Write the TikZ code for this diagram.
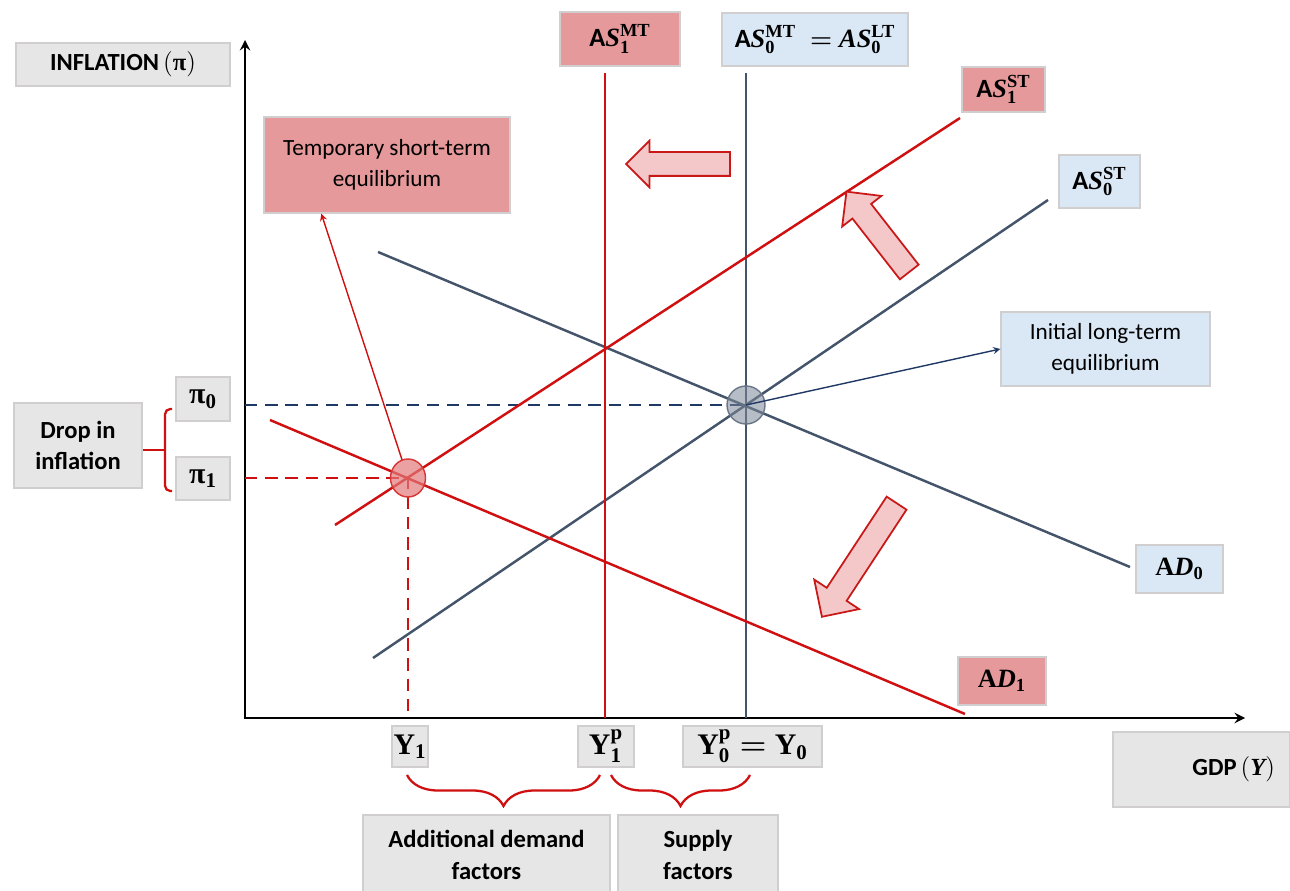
\documentclass[tikz,border=0pt]{standalone}
\usepackage{amsmath}
\usepackage[no-math]{fontspec}
\setmainfont{Carlito}
\newfontfamily\lblserif{Liberation Serif}
\usepackage{tikz}
\usetikzlibrary{shapes,arrows,positioning,calc,decorations.pathreplacing}

\newcommand{\lup}[1]{\text{\lblserif\bfseries #1}}
\newcommand{\lit}[1]{\text{\lblserif\bfseries\itshape #1}}

\definecolor{boxred}{RGB}{229,153,154}
\definecolor{boxblue}{RGB}{218,232,246}
\definecolor{boxgray}{RGB}{231,230,230}
\definecolor{edgegray}{RGB}{208,206,206}
\definecolor{linered}{RGB}{208,16,16}
\definecolor{lineblue}{RGB}{68,84,106}
\definecolor{dashnavy}{RGB}{32,56,100}
\definecolor{arrfill}{RGB}{244,199,200}
\definecolor{arredge}{RGB}{200,24,24}
\definecolor{eqred}{RGB}{226,120,122}

\tikzstyle{lbl}      =[draw=edgegray, line width=0.8pt, inner sep=0pt, align=center,
                       font=\fontsize{14}{18}\selectfont\bfseries]
\tikzstyle{redbox}   =[lbl, fill=boxred]
\tikzstyle{bluebox}  =[lbl, fill=boxblue]
\tikzstyle{graybox}  =[lbl, fill=boxgray]
\tikzstyle{big}      =[font=\fontsize{17}{20}\selectfont\bfseries]
\tikzstyle{mid}      =[font=\fontsize{15}{18}\selectfont\bfseries]
\tikzstyle{plain}    =[font=\fontsize{13.2}{17.5}\selectfont]
\tikzstyle{curve}    =[line width=1.4pt]
\tikzstyle{bigarr}   =[single arrow, draw=arredge, fill=arrfill, line width=1pt,
                       inner xsep=0pt, inner ysep=0.22cm, single arrow head extend=0.23cm,
                       minimum height=2.08cm]
\tikzstyle{bracered} =[draw=linered, line width=1.3pt]

\begin{document}
\begin{tikzpicture}[x=0.02cm, y=-0.02cm]
  \useasboundingbox (0,0) rectangle (1290,891);

  % axes
  \coordinate (O) at (245,718);
  \coordinate (ytop) at (245,40);
  \coordinate (xend) at (1245,718);
  \draw[->, line width=1.6pt, >=stealth] (O) -- (ytop);
  \draw[->, line width=1.6pt, >=stealth] ([xshift=-0.8pt]O) -- (xend);

  % curve end points
  \coordinate (ad0a) at (378,252);  \coordinate (ad0b) at (1130,567);
  \coordinate (as0a) at (373,658);  \coordinate (as0b) at (1048,200);
  \coordinate (as1a) at (335,525);  \coordinate (as1b) at (960,118);
  \coordinate (ad1a) at (270,420);  \coordinate (ad1b) at (965,714);
  \coordinate (mt1a) at (605,73);   \coordinate (mt1b) at (605,718);
  \coordinate (mt0a) at (746,73);   \coordinate (mt0b) at (746,718);

  % equilibrium points
  \node[ellipse, minimum width=0.76cm, minimum height=0.76cm] (blueeq) at (746,405) {};
  \node[ellipse, minimum width=0.70cm, minimum height=0.76cm] (redeq) at (408,478) {};

  % dashed guides
  \draw[dashnavy, line width=1.4pt, dash pattern=on 7pt off 4.5pt] (blueeq.center -| O) -- (blueeq.center);
  \draw[linered, line width=1.2pt, dash pattern=on 7pt off 4.5pt] (redeq.center -| O) -- (redeq.center) -- (redeq.center |- O);

  % curves
  \draw[curve, lineblue] (ad0a) -- (ad0b);
  \draw[curve, lineblue] (as0a) -- (as0b);
  \draw[curve, lineblue] (mt0a) -- (mt0b);
  \draw[curve, linered] (as1a) -- (as1b);
  \draw[curve, linered] (ad1a) -- (ad1b);
  \draw[curve, linered] (mt1a) -- (mt1b);

  \draw[fill=lineblue!70, fill opacity=0.55, draw=lineblue!80, line width=0.8pt] (blueeq.center) ellipse (0.38cm and 0.38cm);
  \draw[fill=eqred, fill opacity=0.7, draw=linered!85, line width=0.8pt] (redeq.center) ellipse (0.35cm and 0.38cm);

  % labels
  \node[graybox, minimum width=4.28cm, minimum height=0.86cm] (infl) at (123,64.5) {INFLATION\,$(\lup{π})$};
  \node[redbox, mid, minimum width=2.4cm, minimum height=1.08cm] (as1mt) at (620,39) {A$\lit{S}^{\lup{MT}}_{\lup{1}}$};
  \node[bluebox, mid, minimum width=3.72cm, minimum height=1.06cm] (as0mt) at (815,39.5) {A$\lit{S}^{\lup{MT}}_{\lup{0}}\;\boldsymbol{=}\lit{AS}^{\lup{LT}}_{\lup{0}}$};
  \node[redbox, mid, minimum width=1.66cm, minimum height=0.9cm] (as1st) at (1003.5,89.5) {A$\lit{S}^{\lup{ST}}_{\lup{1}}$};
  \node[bluebox, mid, minimum width=1.62cm, minimum height=1.06cm] (as0st) at (1099.5,181.5) {A$\lit{S}^{\lup{ST}}_{\lup{0}}$};
  \node[redbox, plain, minimum width=4.92cm, minimum height=1.92cm] (temp) at (387,165) {Temporary short-term\\equilibrium};
  \node[bluebox, plain, minimum width=4.18cm, minimum height=1.48cm] (init) at (1105.5,349) {Initial long-term\\equilibrium};
  \node[bluebox, mid, minimum width=1.74cm, minimum height=0.96cm] (ad0) at (1179.5,569) {$\lup{A}\lit{D}_{\lup{0}}$};
  \node[redbox, mid, minimum width=1.76cm, minimum height=0.96cm] (ad1) at (1002,681) {$\lup{A}\lit{D}_{\lup{1}}$};
  \node[graybox, minimum width=3.54cm, minimum height=1.5cm, text width=2.94cm, inner xsep=0.3cm, align=right] (gdp) at (1201.5,769.5) {GDP\,$(\lit{Y})$};
  \node[graybox, big, minimum width=1.08cm, minimum height=0.88cm] (pi0) at (203,399) {$\lup{π}_{\lup{0}}$};
  \node[graybox, big, minimum width=1.08cm, minimum height=0.86cm] (pi1) at (203,478.5) {$\lup{π}_{\lup{1}}$};
  \node[graybox, minimum width=2.56cm, minimum height=1.7cm] (drop) at (78,445.5) {Drop in\\inflation};
  \node[graybox, big, minimum width=0.72cm, minimum height=0.82cm] (y1) at (410,746.5) {$\lup{Y}_{\lup{1}}$};
  \node[graybox, big, minimum width=1.12cm, minimum height=0.82cm] (y1p) at (606,746.5) {$\lup{Y}^{\lup{p}}_{\lup{1}}$};
  \node[graybox, big, minimum width=2.78cm, minimum height=0.82cm] (y0p) at (752.5,746.5) {$\lup{Y}^{\lup{p}}_{\lup{0}}\boldsymbol{=}\lup{Y}_{\lup{0}}$};
  \node[graybox, minimum width=4.94cm, minimum height=1.6cm] (adf) at (486.5,855) {Additional demand\\factors};
  \node[graybox, minimum width=3.2cm, minimum height=1.6cm] (sf) at (698,855) {Supply\\factors};

  % pointers
  \draw[->, >=stealth, linered, line width=0.8pt] (redeq) -- ([xshift=1.16cm]temp.south west);
  \draw[->, >=stealth, dashnavy, line width=0.8pt] (blueeq.center) -- (init.west);

  % shift arrows
  \node[bigarr, rotate=180] (shiftmt) at (684,164) {};
  \node[bigarr, minimum height=2.04cm, single arrow head extend=0.26cm, rotate=128] (shiftst) at (881.5,236.5) {};
  \node[bigarr, minimum height=2.72cm, single arrow head extend=0.3cm, rotate=236.7] (shiftad) at (862.5,555) {};

  % braces
  \coordinate (brmid) at (165,450);
  \draw[bracered, rounded corners=3pt] (172,409) -- (165,409) -- (165,491) -- (172,491);
  \draw[bracered] (brmid) -- (brmid -| drop.east);
  \draw[bracered, decorate, decoration={brace, mirror, amplitude=0.62cm}] (407,775) -- (600,775);
  \draw[bracered, decorate, decoration={brace, mirror, amplitude=0.62cm}] (611,775) -- (750,775);

\end{tikzpicture}
\end{document}
